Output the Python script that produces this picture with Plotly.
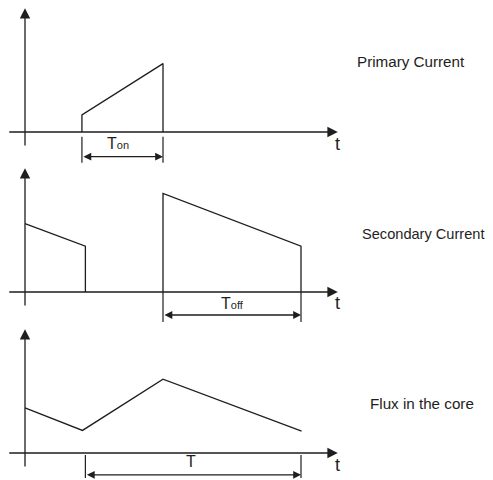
import plotly.graph_objects as go
from plotly.subplots import make_subplots

# waveform data (time in arbitrary units, amplitude normalised)
t_primary = [0.99, 0.99, 2.4, 2.4]
i_primary = [0, 0.25, 1.0, 0]

t_secondary = [0, 1.05, 1.05, None, 2.4, 2.4, 4.8, 4.8]
i_secondary = [1.0, 0.67, 0, None, 0, 1.44, 0.67, 0]

t_flux = [0, 1.0, 2.4, 4.81]
flux = [0.66, 0.33, 1.08, 0.32]

panel_titles = ["Primary Current", "Secondary Current", "Flux in the core"]

# dimension intervals
ton = (0.99, 2.4)
toff = (2.4, 4.8)
period = (1.05, 4.8)

OFF = 8  # page body margin the figure sits inside
W, H = 493 - OFF, 480 - OFF
INK = "#1e1e1e"
FONT = "Liberation Sans Narrow, Arial Narrow, Liberation Sans, Arial"

fig = make_subplots(rows=3, cols=1, vertical_spacing=0)

fig.add_trace(go.Scatter(x=t_primary, y=i_primary, mode="lines",
                         line=dict(color=INK, width=1.3)), row=1, col=1)
fig.add_trace(go.Scatter(x=t_secondary, y=i_secondary, mode="lines",
                         line=dict(color=INK, width=1.3)), row=2, col=1)
fig.add_trace(go.Scatter(x=t_flux, y=flux, mode="lines",
                         line=dict(color=INK, width=1.3)), row=3, col=1)

annotations = []

def arrow(ref, x0, y0, x1, y1, both=False, size=1.4):
    annotations.append(dict(
        x=x1, y=y1, ax=x0, ay=y0, xref="x" + ref, yref="y" + ref,
        axref="x" + ref, ayref="y" + ref, text="", showarrow=True,
        arrowhead=2, arrowsize=size, arrowwidth=1.3, arrowcolor=INK,
        arrowside="end+start" if both else "end", standoff=0, startstandoff=0))

def text(ref, x, y, s, size):
    annotations.append(dict(
        x=x, y=y, xref="x" + ref, yref="y" + ref, text=s, showarrow=False,
        font=dict(family=FONT, size=size, color=INK)))

def vline(row, x, y0, y1):
    fig.add_trace(go.Scatter(x=[x, x], y=[y0, y1], mode="lines",
                             line=dict(color=INK, width=1.2)), row=row, col=1)

refs = ["", "2", "3"]
t_label_y = [-0.175, -0.16, -0.175]
for k, ref in enumerate(refs):
    # time axis and amplitude axis
    arrow(ref, -0.3, 0, 5.44, 0, size=1.6)
    arrow(ref, 0, -0.22, 0, 1.81, size=1.6)
    text(ref, 5.43, t_label_y[k], "t", 18)

# Ton dimension
vline(1, ton[0], -0.07, -0.45)
vline(1, ton[1], -0.07, -0.45)
arrow("", ton[0], -0.36, ton[1], -0.36, both=True, size=1.2)
text("", 1.62, -0.17, "T<span style='font-size:11px'>on</span>", 16)

# Toff dimension
vline(2, toff[0], 0, -0.44)
vline(2, toff[1], 0, -0.44)
arrow("2", toff[0], -0.336, toff[1], -0.336, both=True, size=1.2)
text("2", 3.6, -0.175, "T<span style='font-size:11px'>off</span>", 16)

# period dimension
vline(3, period[0], -0.03, -0.365)
vline(3, period[1], -0.03, -0.365)
arrow("3", period[0], -0.32, period[1], -0.32, both=True, size=1.2)
text("3", 2.89, -0.13, "T", 16)

# panel labels on the right
label_y = [61, 234, 403.5]
label_x = [355, 359.5, 368]
label_size = [15.2, 14.6, 15.2]
for s, px, py, fs in zip(panel_titles, label_x, label_y, label_size):
    annotations.append(dict(
        x=(px - OFF) / W, y=1 - (py - OFF) / H, xref="paper", yref="paper",
        text=s, showarrow=False, xanchor="left", yanchor="middle",
        font=dict(family="Liberation Sans, Arial", size=fs, color=INK)))

px_per_t = 57.5
x_range = [(OFF - 25) / px_per_t, (W + OFF - 25) / px_per_t]
fig.update_xaxes(range=x_range, visible=False)
fig.update_yaxes(visible=False)
fig.update_layout(
    yaxis=dict(domain=[1 - 158 / H, 1], range=[-0.497, 1.813]),
    yaxis2=dict(domain=[1 - 318 / H, 1 - 158 / H], range=[-0.497, 1.842]),
    yaxis3=dict(domain=[0, 1 - 318 / H], range=[-0.395, 1.857]),
    annotations=annotations,
    width=W, height=H,
    margin=dict(l=0, r=0, t=0, b=0),
    paper_bgcolor="white", plot_bgcolor="white",
    showlegend=False,
)

fig.write_html("out.html")
